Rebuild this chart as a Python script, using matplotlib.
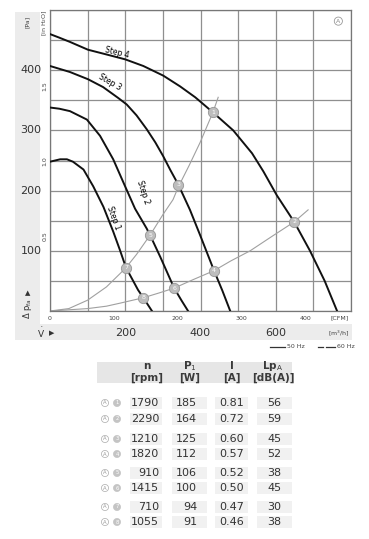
import numpy as np
import matplotlib
matplotlib.use("Agg")
import matplotlib.pyplot as plt
from matplotlib.patches import Rectangle

plt.rcParams['font.family'] = ['Liberation Sans Narrow', 'DejaVu Sans']

###
### fan curves, flow in m3/h and static pressure in Pa
###
step4_q = [0, 25, 53, 101, 151, 200, 248, 301, 346, 386, 433, 487, 537, 567, 603, 649, 691, 730, 763]
step4_p = [460, 454, 447, 434, 426, 418, 407, 391, 373, 355, 330, 300, 262, 232, 192, 148, 100, 50, 0]
step3_q = [0, 53, 101, 141, 181, 204, 230, 257, 280, 301, 320, 341, 372, 399, 436, 458, 479]
step3_p = [407, 397, 385, 372, 354, 343, 325, 302, 280, 257, 234, 210, 168, 126, 67, 34, 0]
step2_q = [0, 25, 53, 98, 133, 168, 199, 226, 257, 266, 293, 330, 350, 367]
step2_p = [338, 336, 332, 318, 291, 252, 208, 170, 137, 126, 90, 38, 17, 0]
step1_q = [0, 27, 45, 61, 89, 115, 142, 168, 186, 202, 234, 248, 271]
step1_p = [248, 252, 252, 248, 235, 207, 173, 132, 101, 72, 35, 22, 0]

# system curves (grey)
sys1_q = [0, 50, 100, 150, 186, 202, 230, 266, 300, 327, 341, 370, 399, 433, 447]
sys1_p = [0, 4, 18, 40, 62, 72, 94, 126, 160, 185, 206, 242, 280, 330, 355]
sys2_q = [0, 100, 150, 186, 248, 290, 330, 380, 436, 480, 532, 590, 649, 686]
sys2_p = [0, 4, 8, 13, 22, 30, 38, 52, 67, 83, 100, 124, 148, 168]

# operating points 1..8
op_q = [433, 649, 341, 436, 266, 330, 202, 248]
op_p = [330, 148, 210, 67, 126, 38, 72, 22]

pa_ticks = [100, 200, 300, 400]
inh2o_ticks = [0.5, 1.0, 1.5]
cfm_ticks = [0, 100, 200, 300, 400]
m3h_ticks = [200, 400, 600]

# table
rpm = [1790, 2290, 1210, 1820, 910, 1415, 710, 1055]
power = [185, 164, 125, 112, 106, 100, 94, 91]
current = [0.81, 0.72, 0.60, 0.57, 0.52, 0.50, 0.47, 0.46]
noise = [56, 59, 45, 52, 38, 45, 30, 38]

W, H = 369, 539
fig = plt.figure(figsize=(W/100, H/100), dpi=100)
fig.patch.set_facecolor('white')

# overlay in pixel coords for the decorations
ov = fig.add_axes([0, 0, 1, 1], zorder=0)
ov.set_xlim(0, W)
ov.set_ylim(H, 0)
ov.axis('off')
bg = '#ececec'
ov.add_patch(Rectangle((15, 12), 25, 328, color=bg, lw=0))
ov.add_patch(Rectangle((15, 324), 337, 16, color=bg, lw=0))

ax = fig.add_axes([50/W, (H-311)/H, 301/W, 301/H], zorder=2)
ax.set_xlim(0, 800)
ax.set_ylim(0, 500)
ax.set_xticks(range(0, 801, 100))
ax.set_yticks(range(0, 501, 50))
ax.tick_params(length=0, labelbottom=False, labelleft=False)
ax.grid(color='#8f8f8f', lw=0.9)
for s in ax.spines.values():
    s.set_color('#777777')
    s.set_linewidth(0.9)

ax.plot(sys1_q, sys1_p, color='#a0a0a0', lw=0.8, zorder=2)
ax.plot(sys2_q, sys2_p, color='#a0a0a0', lw=0.8, zorder=2)
for q, p in [(step4_q, step4_p), (step3_q, step3_p), (step2_q, step2_p), (step1_q, step1_p)]:
    ax.plot(q, p, color='#111111', lw=1.4, zorder=3, solid_joinstyle='round')

ax.scatter(op_q, op_p, s=55, color='#bdbdbd', edgecolor='#959595', lw=0.6, zorder=4)
for i, (q, p) in enumerate(zip(op_q, op_p)):
    ax.text(q, p, str(i+1), color='white', fontsize=4.5, ha='center', va='center', zorder=5)

ax.text(178, 430, 'Step 4', fontsize=5.5, rotation=-14, ha='center', va='center')
ax.text(160, 380, 'Step 3', fontsize=5.5, rotation=-30, ha='center', va='center')
ax.text(248, 197, 'Step 2', fontsize=5.5, rotation=-72, ha='center', va='center')
ax.text(168, 155, 'Step 1', fontsize=5.5, rotation=-70, ha='center', va='center')
ax.text(0.958, 0.963, 'A', transform=ax.transAxes, fontsize=4.5, color='#888888',
        ha='center', va='center',
        bbox=dict(boxstyle='circle,pad=0.25', fc='white', ec='#999999', lw=0.6))

# left labels
for p in pa_ticks:
    ax.annotate(str(p), xy=(0, p), xycoords=('axes fraction', 'data'), xytext=(-19, 0),
                textcoords='offset pixels', ha='center', va='center', fontsize=8, color='#333333')
for v in inh2o_ticks:
    ax.annotate('%.1f' % v, xy=(0, v*249.09), xycoords=('axes fraction', 'data'), xytext=(-5, 0),
                textcoords='offset pixels', ha='center', va='center', fontsize=4.5,
                rotation=90, color='#444444')
ov.text(27, 22, '[Pa]', fontsize=4.5, rotation=90, ha='center', va='center', color='#444444')
ov.text(45, 23, '[in H$_2$O]', fontsize=4.5, rotation=90, ha='center', va='center', color='#444444')

# bottom labels
for c in cfm_ticks:
    ax.annotate(str(c), xy=(c*1.699, 0), xycoords=('data', 'axes fraction'), xytext=(0, -7),
                textcoords='offset pixels', ha='center', va='center', fontsize=4.5, color='#444444')
ov.text(340, 318, '[CFM]', fontsize=4.5, ha='center', va='center', color='#444444')
for m in m3h_ticks:
    ax.annotate(str(m), xy=(m, 0), xycoords=('data', 'axes fraction'), xytext=(0, -22),
                textcoords='offset pixels', ha='center', va='center', fontsize=8, color='#333333')
ov.text(339, 333, '[m$^3$/h]', fontsize=4.5, ha='center', va='center', color='#444444')
ov.text(41, 333, r'$\dot{\mathrm{V}}$', fontsize=6.5, ha='center', va='center', color='#333333')
ov.text(52, 333, u'\u25b6', fontsize=5, ha='center', va='center', color='#333333')
ov.text(28, 309, r'$\Delta$ p$_{\mathrm{fa}}$', fontsize=6, rotation=90, ha='center', va='center', color='#333333')
ov.text(28, 293, u'\u25b2', fontsize=5, ha='center', va='center', color='#333333')

# legend
ov.plot([270, 285], [347, 347], color='#333333', lw=0.9)
ov.text(287, 347, '50 Hz', fontsize=4.5, va='center', color='#444444')
ov.plot([318, 323], [347, 347], color='#333333', lw=0.9)
ov.plot([326, 335], [347, 347], color='#333333', lw=0.9)
ov.text(337, 347, '60 Hz', fontsize=4.5, va='center', color='#444444')

# table
ov.add_patch(Rectangle((97, 362), 195, 21, color='#e6e6e6', lw=0))
hdr_x = [147, 190, 232, 273]
hdr_top = ['n', 'P$_1$', 'I', 'Lp$_\\mathrm{A}$']
hdr_bot = ['[rpm]', '[W]', '[A]', '[dB(A)]']
for x, t, b in zip(hdr_x, hdr_top, hdr_bot):
    ov.text(x, 366, t, fontsize=7.5, ha='center', va='center', fontweight='bold', color='#3a3a3a')
    ov.text(x, 378, b, fontsize=7.5, ha='center', va='center', fontweight='bold', color='#3a3a3a')

row_y = [403, 419, 439, 454, 473, 488, 507, 522]
boxes = [(130, 32), (172, 35), (215, 33), (257, 35)]
for i, y in enumerate(row_y):
    for bx, bw in boxes:
        ov.add_patch(Rectangle((bx, y-6), bw, 12, color='#f1f1f1', lw=0))
    ov.text(105, y, 'A', fontsize=3.8, color='#999999', ha='center', va='center',
            bbox=dict(boxstyle='circle,pad=0.2', fc='white', ec='#aaaaaa', lw=0.5))
    ov.text(117, y, str(i+1), fontsize=3.8, color='white', ha='center', va='center',
            bbox=dict(boxstyle='circle,pad=0.2', fc='#c4c4c4', ec='#c4c4c4', lw=0.5))
    ov.text(159, y, str(rpm[i]), fontsize=8, ha='right', va='center', color='#333333')
    ov.text(197, y, str(power[i]), fontsize=8, ha='right', va='center', color='#333333')
    ov.text(232, y, '%.2f' % current[i], fontsize=8, ha='center', va='center', color='#333333')
    ov.text(274, y, str(noise[i]), fontsize=8, ha='center', va='center', color='#333333')

fig.savefig('out.png', dpi=100)
